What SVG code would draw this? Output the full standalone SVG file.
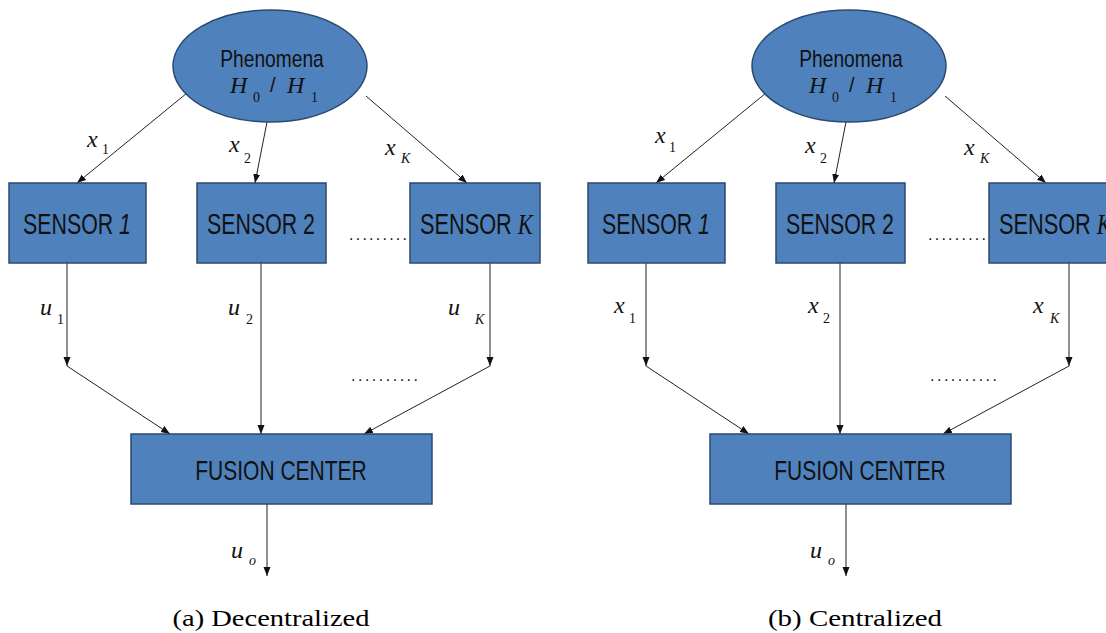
<svg xmlns="http://www.w3.org/2000/svg" width="1106" height="633" viewBox="0 0 1106 633">
  <style>
    .node { fill: #4F81BD; stroke: #2B4A70; stroke-width: 1.5; }
    .sans { font-family: "Liberation Sans", Arial, sans-serif; fill: #111; }
    .btext { font-size: 29px; }
    .ftext { font-size: 28px; }
    .ptext { font-size: 24px; }
    .math { font-family: "Liberation Serif", "Times New Roman", serif; font-style: italic; fill: #111; }
    .m24 { font-size: 24px; }
    .sub { font-family: "Liberation Serif", "Times New Roman", serif; font-size: 14px; fill: #111; }
    .subi { font-family: "Liberation Serif", "Times New Roman", serif; font-style: italic; font-size: 14px; fill: #111; }
    .dots { font-family: "Liberation Sans", Arial, sans-serif; font-size: 16px; fill: #111; }
    .cap { font-family: "Liberation Serif", "Times New Roman", serif; font-size: 23px; fill: #000; }
    .edge-a { stroke: #222; stroke-width: 1; fill: none; marker-end: url(#arr); }
  </style>
  <defs>
    <marker id="arr" markerUnits="userSpaceOnUse" markerWidth="10" markerHeight="8" refX="9" refY="3.5" orient="auto">
      <path d="M0,0 L9,3.5 L0,7 z" fill="#111"/>
    </marker>
  </defs>
  <rect width="1106" height="633" fill="#fff"/>

  <!-- connectors -->
  <g id="connectors">
    <!-- left panel -->
    <line class="edge-a" x1="187" y1="93" x2="77" y2="183"/>
    <line class="edge-a" x1="267" y1="122" x2="255" y2="183"/>
    <line class="edge-a" x1="366" y1="96" x2="467" y2="183"/>
    <line class="edge-a" x1="67" y1="263" x2="67" y2="366"/>
    <line class="edge-a" x1="261" y1="263" x2="261" y2="434"/>
    <line class="edge-a" x1="490" y1="263" x2="490" y2="366"/>
    <line class="edge-a" x1="67" y1="366" x2="170" y2="434"/>
    <line class="edge-a" x1="490" y1="366" x2="364" y2="434"/>
    <line class="edge-a" x1="267" y1="504" x2="267" y2="576"/>
    <!-- right panel -->
    <line class="edge-a" x1="766" y1="93" x2="656" y2="183"/>
    <line class="edge-a" x1="846" y1="122" x2="834" y2="183"/>
    <line class="edge-a" x1="945" y1="96" x2="1046" y2="183"/>
    <line class="edge-a" x1="646" y1="263" x2="646" y2="366"/>
    <line class="edge-a" x1="840" y1="263" x2="840" y2="434"/>
    <line class="edge-a" x1="1069" y1="263" x2="1069" y2="366"/>
    <line class="edge-a" x1="646" y1="366" x2="749" y2="434"/>
    <line class="edge-a" x1="1069" y1="366" x2="943" y2="434"/>
    <line class="edge-a" x1="846" y1="504" x2="846" y2="576"/>
  </g>

  <!-- left panel nodes -->
  <g id="a-phenomena">
    <ellipse class="node" cx="270" cy="66" rx="97" ry="56"/>
    <text class="sans ptext" transform="translate(272,67) scale(0.8,1)" text-anchor="middle">Phenomena</text>
    <text class="math m24" x="230" y="93">H</text>
    <text class="sub" x="253" y="102">0</text>
    <text class="sans" x="270" y="92" font-size="20">/</text>
    <text class="math m24" x="287" y="93">H</text>
    <text class="sub" x="311" y="102">1</text>
  </g>
  <g id="a-sensor1">
    <rect class="node" x="9" y="183" width="137" height="80"/>
    <text class="sans btext" transform="translate(77,234) scale(0.736,1)" text-anchor="middle">SENSOR <tspan font-style="italic">1</tspan></text>
  </g>
  <g id="a-sensor2">
    <rect class="node" x="197" y="183" width="129" height="80"/>
    <text class="sans btext" transform="translate(261,234) scale(0.736,1)" text-anchor="middle">SENSOR 2</text>
  </g>
  <g id="a-sensorK">
    <rect class="node" x="410" y="183" width="130" height="80"/>
    <text class="sans btext" transform="translate(420,234) scale(0.75,1)">SENSOR <tspan class="math" font-size="30">K</tspan></text>
  </g>
  <g id="a-fusion">
    <rect class="node" x="131" y="434" width="301" height="70"/>
    <text class="sans ftext" transform="translate(281,480) scale(0.75,1)" text-anchor="middle">FUSION CENTER</text>
  </g>

  <!-- right panel nodes -->
  <g id="b-phenomena">
    <ellipse class="node" cx="849" cy="66" rx="97" ry="56"/>
    <text class="sans ptext" transform="translate(851,67) scale(0.8,1)" text-anchor="middle">Phenomena</text>
    <text class="math m24" x="809" y="93">H</text>
    <text class="sub" x="832" y="102">0</text>
    <text class="sans" x="849" y="92" font-size="20">/</text>
    <text class="math m24" x="866" y="93">H</text>
    <text class="sub" x="890" y="102">1</text>
  </g>
  <g id="b-sensor1">
    <rect class="node" x="588" y="183" width="137" height="80"/>
    <text class="sans btext" transform="translate(656,234) scale(0.736,1)" text-anchor="middle">SENSOR <tspan font-style="italic">1</tspan></text>
  </g>
  <g id="b-sensor2">
    <rect class="node" x="776" y="183" width="129" height="80"/>
    <text class="sans btext" transform="translate(840,234) scale(0.736,1)" text-anchor="middle">SENSOR 2</text>
  </g>
  <g id="b-sensorK">
    <rect class="node" x="989" y="183" width="130" height="80"/>
    <text class="sans btext" transform="translate(999,234) scale(0.75,1)">SENSOR <tspan class="math" font-size="30">K</tspan></text>
  </g>
  <g id="b-fusion">
    <rect class="node" x="710" y="434" width="301" height="70"/>
    <text class="sans ftext" transform="translate(860,480) scale(0.75,1)" text-anchor="middle">FUSION CENTER</text>
  </g>

  <!-- edge labels -->
  <g id="labels">
    <!-- left upper -->
    <text class="math m24" x="87" y="147">x</text><text class="sub" x="102" y="154">1</text>
    <text class="math m24" x="229" y="152">x</text><text class="sub" x="244" y="163">2</text>
    <text class="math m24" x="385" y="155">x</text><text class="subi" x="401" y="163">K</text>
    <!-- left lower -->
    <text class="math m24" x="40" y="315">u</text><text class="sub" x="57" y="324">1</text>
    <text class="math m24" x="228" y="315">u</text><text class="sub" x="246" y="324">2</text>
    <text class="math m24" x="448" y="315">u</text><text class="subi" x="475" y="324">K</text>
    <text class="math m24" x="231" y="558">u</text><text class="subi" x="249" y="565">o</text>
    <!-- right upper -->
    <text class="math m24" x="655" y="143">x</text><text class="sub" x="669" y="152">1</text>
    <text class="math m24" x="805" y="153">x</text><text class="sub" x="820" y="163">2</text>
    <text class="math m24" x="964" y="155">x</text><text class="subi" x="980" y="163">K</text>
    <!-- right lower -->
    <text class="math m24" x="614" y="313">x</text><text class="sub" x="629" y="323">1</text>
    <text class="math m24" x="808" y="313">x</text><text class="sub" x="823" y="323">2</text>
    <text class="math m24" x="1033" y="313">x</text><text class="subi" x="1050" y="323">K</text>
    <text class="math m24" x="810" y="558">u</text><text class="subi" x="828" y="565">o</text>
  </g>

  <!-- dots -->
  <g id="ellipsis">
    <text class="dots" x="349" y="240" textLength="58" lengthAdjust="spacing">.........</text>
    <text class="dots" x="351" y="381" textLength="67" lengthAdjust="spacing">..........</text>
    <text class="dots" x="928" y="240" textLength="58" lengthAdjust="spacing">.........</text>
    <text class="dots" x="930" y="381" textLength="67" lengthAdjust="spacing">..........</text>
  </g>

  <!-- captions -->
  <g id="captions">
    <text class="cap" x="271" y="626" text-anchor="middle" textLength="197" lengthAdjust="spacingAndGlyphs">(a) Decentralized</text>
    <text class="cap" x="855" y="626" text-anchor="middle" textLength="174" lengthAdjust="spacingAndGlyphs">(b) Centralized</text>
  </g>
</svg>
